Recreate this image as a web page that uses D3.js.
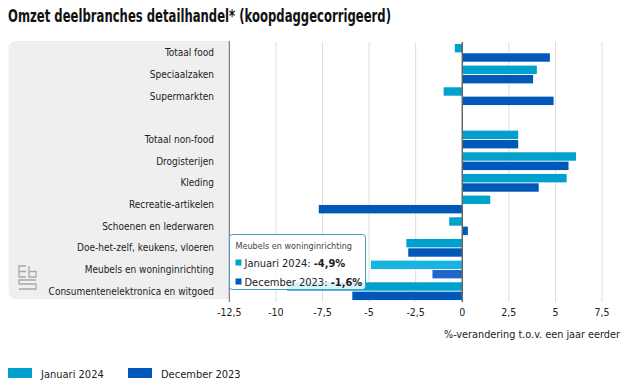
<!DOCTYPE html>
<html>
<head>
<meta charset="utf-8">
<script src="https://cdn.jsdelivr.net/npm/d3@7"></script>
<style>
  body { margin: 0; background: #fff; }
  svg { font-family: "DejaVu Sans Condensed", "DejaVu Sans", sans-serif; }
</style>
</head>
<body>
<svg id="chart" width="626" height="383"></svg>
<script>
// categories top to bottom, "" is the empty spacer row
const categories = [
    'Totaal food', 'Speciaalzaken', 'Supermarkten', '',
    'Totaal non-food', 'Drogisterijen', 'Kleding', 'Recreatie-artikelen',
    'Schoenen en lederwaren', 'Doe-het-zelf, keukens, vloeren',
    'Meubels en woninginrichting', 'Consumentenelektronica en witgoed'
];
const series = ['Januari 2024', 'December 2023'];
const januari2024 = [-0.4, 4.0, -1.0, null, 3.0, 6.1, 5.6, 1.5, -0.7, -3.0, -4.9, -9.4];
const december2023 = [4.7, 3.8, 4.9, null, 3.0, 5.7, 4.1, -7.7, 0.3, -2.9, -1.6, -5.9];
const xTicks = [-12.5, -10, -7.5, -5, -2.5, 0, 2.5, 5, 7.5];
const colors = ['#00a1cd', '#0058b8'];

const svg = d3.select('#chart');
const nl = d3.formatLocale({ decimal: ',', thousands: '.', grouping: [3], currency: ['€', ''], minus: '-' });
const fmt = nl.format(',.1f');
const tickFmt = d => (Number.isInteger(d) ? String(d) : fmt(d));

// title (font is narrower in the original, so squeeze it)
svg.append('text')
    .attr('x', 8).attr('y', 22)
    .attr('font-size', 18).attr('font-weight', 600).attr('fill', '#111')
    .attr('textLength', 383).attr('lengthAdjust', 'spacingAndGlyphs')
    .text('Omzet deelbranches detailhandel* (koopdaggecorrigeerd)');

const x = d3.scaleLinear().domain([-12.5, 8.5]).range([229.3, 620.7]);
const y = d3.scaleBand().domain(categories).range([42, 302]).paddingInner(0.18).paddingOuter(0.09);
const ySub = d3.scaleBand().domain(series).range([0, y.bandwidth()]).paddingInner(0.1);

// grey label panel
svg.append('path')
    .attr('d', () => {
        const l = 8.5, t = 41, r = x(-12.5), b = 299, rad = 8;
        return `M${l + rad},${t} H${r} V${b} H${l + rad} Q${l},${b} ${l},${b - rad} V${t + rad} Q${l},${t} ${l + rad},${t} Z`;
    })
    .attr('fill', '#efefef');

// gridlines
svg.append('g')
    .selectAll('line')
    .data(xTicks.filter(d => d !== -12.5 && d !== 0))
    .join('line')
    .attr('x1', d => x(d)).attr('x2', d => x(d))
    .attr('y1', 42).attr('y2', 302)
    .attr('stroke', '#dedede').attr('stroke-width', 1);

// tick labels
svg.append('g')
    .selectAll('text')
    .data(xTicks)
    .join('text')
    .attr('x', d => x(d)).attr('y', 316)
    .attr('text-anchor', 'middle')
    .attr('font-size', 10.5).attr('fill', '#222')
    .text(tickFmt);

svg.append('text')
    .attr('x', 620).attr('y', 338)
    .attr('text-anchor', 'end')
    .attr('font-size', 10.8).attr('fill', '#222')
    .text('%-verandering t.o.v. een jaar eerder');

// category labels
svg.append('g')
    .selectAll('text')
    .data(categories.filter(d => d !== ''))
    .join('text')
    .attr('x', 214).attr('y', d => y(d) + y.bandwidth() / 2 + 3.5)
    .attr('text-anchor', 'end')
    .attr('font-size', 10).attr('fill', '#222')
    .text(d => d);

// bars
const rows = categories.map((c, i) => ({ cat: c, values: [januari2024[i], december2023[i]] }));
const groups = svg.append('g')
    .selectAll('g')
    .data(rows.filter(r => r.cat !== ''))
    .join('g')
    .attr('transform', d => `translate(0,${y(d.cat)})`);

groups.selectAll('rect')
    .data(d => d.values.map((v, i) => ({ s: series[i], v: v, i: i, cat: d.cat })))
    .join('rect')
    .attr('x', d => x(Math.min(0, d.v)))
    .attr('width', d => Math.abs(x(d.v) - x(0)))
    .attr('y', d => ySub(d.s))
    .attr('height', ySub.bandwidth())
    .attr('fill', d => {
        // hovered row is shown slightly brighter
        if (d.cat === 'Meubels en woninginrichting') return d.i === 0 ? '#18b4e0' : '#2266cc';
        return colors[d.i];
    });

// axis lines
svg.append('line')
    .attr('x1', x(-12.5)).attr('x2', x(-12.5)).attr('y1', 41).attr('y2', 302)
    .attr('stroke', '#666').attr('stroke-width', 1);
svg.append('line')
    .attr('x1', x(0)).attr('x2', x(0)).attr('y1', 42).attr('y2', 302)
    .attr('stroke', '#666').attr('stroke-width', 1.5);

// cbs logo
const logo = svg.append('g')
    .attr('fill', 'none').attr('stroke', '#a8a8a8').attr('stroke-width', 1.3);
logo.append('path').attr('d', 'M26,266 H19 V277 H26 M19,271.5 H26');
logo.append('path').attr('d', 'M29,266 V277 H36 V271.5 H29');
logo.append('path').attr('d', 'M36,280 H19 V284 H36 V289 H19');

// tooltip
const tip = svg.append('g').attr('transform', 'translate(229.5,234.5)');
tip.append('rect')
    .attr('width', 136).attr('height', 55).attr('rx', 3)
    .attr('fill', '#fff').attr('fill-opacity', 0.85)
    .attr('stroke', '#3f9fbf').attr('stroke-width', 1);
tip.append('text')
    .attr('x', 6).attr('y', 14)
    .attr('font-size', 9).attr('fill', '#444')
    .text('Meubels en woninginrichting');
const tipRows = [
    { label: 'Januari 2024: ', v: januari2024[10], c: colors[0] },
    { label: 'December 2023: ', v: december2023[10], c: colors[1] }
];
tipRows.forEach((r, i) => {
    tip.append('rect')
        .attr('x', 6).attr('y', 25 + i * 19).attr('width', 6).attr('height', 6)
        .attr('fill', r.c);
    const t = tip.append('text')
        .attr('x', 15).attr('y', 32 + i * 19)
        .attr('font-size', 11).attr('fill', '#222');
    t.append('tspan').text(r.label);
    t.append('tspan').attr('font-weight', 'bold').text(fmt(r.v) + '%');
});

// legend
const legend = svg.append('g').attr('transform', 'translate(8,368)');
series.forEach((s, i) => {
    const lx = i * 120;
    legend.append('rect')
        .attr('x', lx).attr('y', 0).attr('width', 24).attr('height', 10)
        .attr('fill', colors[i]);
    legend.append('text')
        .attr('x', lx + 33).attr('y', 9.5)
        .attr('font-size', 11).attr('fill', '#222')
        .text(s);
});
</script>
</body>
</html>
